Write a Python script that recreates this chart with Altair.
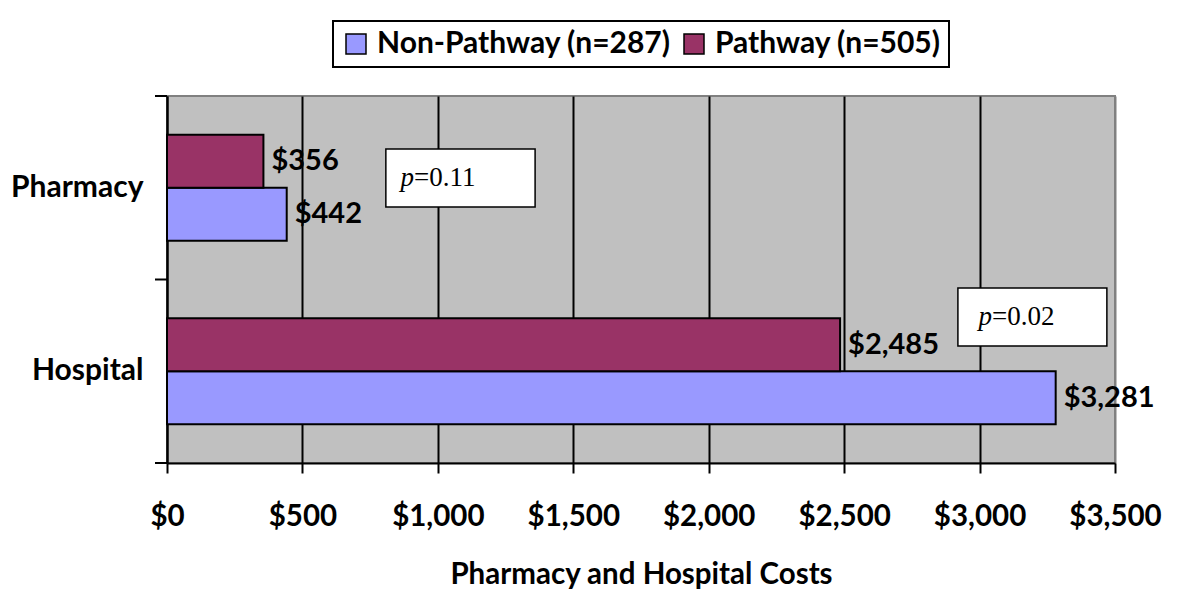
import altair as alt
import pandas as pd

# ---- data ----
categories = ["Pharmacy", "Hospital"]
groups = ["Non-Pathway (n=287)", "Pathway (n=505)"]
non_pathway = [442, 3281]
pathway = [356, 2485]
tick_values = [0, 500, 1000, 1500, 2000, 2500, 3000, 3500]
p_values = ["0.11", "0.02"]

rows = []
for c, v in zip(categories, non_pathway):
    rows.append({"cat": c, "group": groups[0], "value": v})
for c, v in zip(categories, pathway):
    rows.append({"cat": c, "group": groups[1], "value": v})
df = pd.DataFrame(rows)

# annotation boxes (x in $ units, y in pixels of the plot area)
ann = pd.DataFrame({
    "x1": [808, 2920],
    "x2": [1359, 3470],
    "xs": [912, 3046],
    "y1": [53, 192],
    "y2": [111, 250],
    "yt": [82, 221],
    "p": ["p", "p"],
    "rest": ["=" + p for p in p_values],
})

W, H = 948, 367
FONT = "Lato"

xscale = alt.Scale(domain=[0, 3500], nice=False, zero=True)
yscale = alt.Scale(domain=categories, paddingInner=0, paddingOuter=0)
off_order = [groups[1], groups[0]]
offscale = alt.Scale(domain=off_order, paddingInner=0, paddingOuter=0.73)
color = alt.Color(
    "group:N",
    scale=alt.Scale(domain=groups, range=["#9999FF", "#993366"]),
    legend=alt.Legend(
        title=None,
        orient="none",
        legendX=166,
        legendY=-75,
        direction="horizontal",
        fillColor="white",
        strokeColor="black",
        padding=8,
        symbolType="square",
        symbolSize=400,
        symbolStrokeColor="black",
        symbolStrokeWidth=1.5,
        symbolOpacity=1,
        labelFont=FONT,
        labelFontSize=30,
        labelFontWeight="bold",
        labelColor="black",
        labelOffset=6,
        columnPadding=8,
        labelLimit=400,
    ),
)

xaxis = alt.Axis(
    values=tick_values,
    format="$,.0f",
    grid=True,
    gridColor={"condition": {"test": "datum.value == 3500", "value": "#808080"}, "value": "black"},
    gridWidth=2,
    domainColor="black",
    domainWidth=2,
    tickColor="black",
    tickWidth=2,
    tickSize=10,
    labelFont=FONT,
    labelFontSize=29.5,
    labelFontWeight="bold",
    labelColor="black",
    labelPadding=29,
    labelFlush=False,
    title="Pharmacy and Hospital Costs",
    titleFont=FONT,
    titleFontSize=29.5,
    titleFontWeight="bold",
    titleColor="black",
    titlePadding=30,
)
yaxis = alt.Axis(
    title=None,
    ticks=False,
    domainColor="black",
    domainWidth=2,
    labelFont=FONT,
    labelFontSize=30,
    labelFontWeight="bold",
    labelColor="black",
    labelPadding=24,
    labelLimit=300,
)

bars = alt.Chart(df).mark_bar(stroke="black", strokeWidth=2).encode(
    x=alt.X("value:Q", scale=xscale, axis=xaxis),
    y=alt.Y("cat:N", scale=yscale, axis=yaxis),
    yOffset=alt.YOffset("group:N", scale=offscale),
    color=color,
)

labels = alt.Chart(df).mark_text(
    align="left", baseline="middle", dx=8, font=FONT, fontSize=29,
    fontWeight="bold", color="black",
).encode(
    x=alt.X("value:Q", scale=xscale),
    y=alt.Y("cat:N", scale=yscale),
    yOffset=alt.YOffset("group:N", scale=offscale),
    text=alt.Text("value:Q", format="$,.0f"),
)

tick_df = pd.DataFrame({"cat": categories})
yticks_top = alt.Chart(tick_df).mark_rule(color="black", strokeWidth=2).encode(
    y=alt.Y("cat:N", scale=yscale, bandPosition=0),
    x=alt.value(-12),
    x2=alt.value(0),
)
yticks_bottom = alt.Chart(tick_df.tail(1)).mark_rule(color="black", strokeWidth=2).encode(
    y=alt.Y("cat:N", scale=yscale, bandPosition=1),
    x=alt.value(-12),
    x2=alt.value(0),
)

boxes = alt.Chart(ann).mark_rect(fill="white", stroke="black", strokeWidth=1.5).encode(
    x=alt.X("x1:Q", scale=xscale),
    x2="x2:Q",
    y=alt.Y("y1:Q", scale=None),
    y2="y2:Q",
)
ptxt = alt.Chart(ann).mark_text(
    align="right", baseline="middle", font="Liberation Serif", fontSize=27,
    fontStyle="italic", color="black",
).encode(
    x=alt.X("xs:Q", scale=xscale),
    y=alt.Y("yt:Q", scale=None),
    text="p:N",
)
rtxt = alt.Chart(ann).mark_text(
    align="left", baseline="middle", font="Liberation Serif", fontSize=27,
    color="black",
).encode(
    x=alt.X("xs:Q", scale=xscale),
    y=alt.Y("yt:Q", scale=None),
    text="rest:N",
)

chart = alt.layer(bars, labels, yticks_top, yticks_bottom, boxes, ptxt, rtxt).properties(
    width=W, height=H, padding={"left": 2, "top": 12, "right": 5, "bottom": 5},
    background="white",
).configure_view(
    fill="#C0C0C0", stroke="#808080", strokeWidth=2,
).configure_legend(
    strokeWidth=2,
)

chart.save("out.html", embed_options={"renderer": "svg", "actions": False})
